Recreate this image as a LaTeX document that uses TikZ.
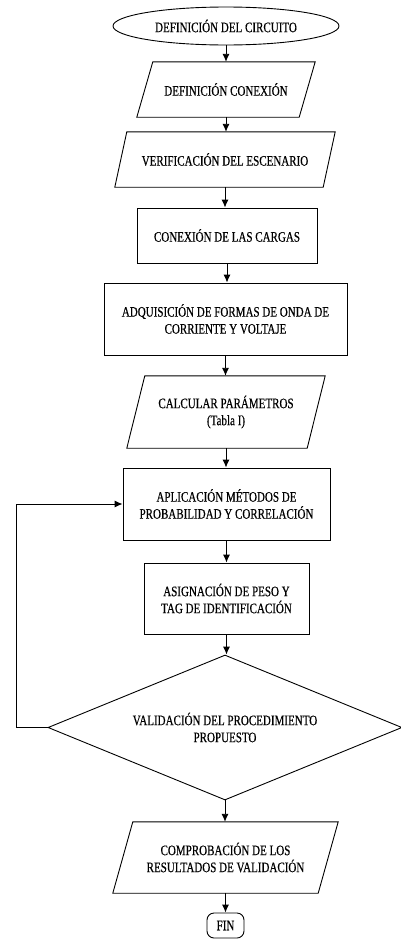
\documentclass[tikz,border=0pt]{standalone}
\usepackage{fontspec}
\setmainfont{Liberation Serif}[FakeStretch=0.76,FakeBold=0.4]
\usetikzlibrary{shapes.geometric,arrows.meta}
\tikzset{
  ln/.style={line width=0.9pt, draw=black},
  txt/.style={align=center, font=\fontsize{14.5}{17}\selectfont, inner sep=0pt},
  boxnode/.style={txt, ln, minimum width=#1},
  paranode/.style={txt, minimum width=#1},
  arr/.style={ln, -{Latex[length=8pt,width=7pt]}},
}
\newcommand\drawpara[2]{\draw[ln] ([xshift=#2]#1.north west) -- ([xshift=#2]#1.north east) -- ([xshift=-#2]#1.south east) -- ([xshift=-#2]#1.south west) -- cycle;}
\begin{document}
\begin{tikzpicture}[x=1pt,y=-1pt]
\useasboundingbox[fill=white] (0,0) rectangle (400,940);
\node[txt, ln, ellipse, minimum width=226pt, minimum height=38pt] (start) at (226,26) {DEFINICIÓN DEL CIRCUITO};
\node[paranode=162pt, minimum height=55pt] (p1) at (226,89.5) {DEFINICIÓN CONEXIÓN};
\drawpara{p1}{8pt}
\node[paranode=208pt, minimum height=55pt] (p2) at (225,159.5) {VERIFICACIÓN DEL ESCENARIO};
\drawpara{p2}{6pt}
\node[boxnode=180pt, minimum height=55pt] (r1) at (227,235.5) {CONEXIÓN DE LAS CARGAS};
\node[boxnode=243pt, minimum height=72pt] (r2) at (225.5,319) {ADQUISICIÓN DE FORMAS DE ONDA DE\\CORRIENTE Y VOLTAJE};
\node[paranode=180pt, minimum height=72pt] (p3) at (226,412) {CALCULAR PARÁMETROS\\(Tabla I)};
\drawpara{p3}{9pt}
\node[boxnode=207pt, minimum height=72pt] (ap) at (226.5,504) {APLICACIÓN MÉTODOS DE\\PROBABILIDAD Y CORRELACIÓN};
\node[boxnode=165pt, minimum height=71pt] (as) at (226.5,598.5) {ASIGNACIÓN DE PESO Y\\TAG DE IDENTIFICACIÓN};
\node[txt, ln, diamond, aspect=2.4, minimum width=354pt, minimum height=145pt] (dec) at (225,727.5) {VALIDACIÓN DEL PROCEDIMIENTO\\PROPUESTO};
\node[paranode=205pt, minimum height=71pt] (p4) at (225.5,857.5) {COMPROBACIÓN DE LOS\\RESULTADOS DE VALIDACIÓN};
\drawpara{p4}{10pt}
\node[txt, ln, rounded corners=7pt, minimum width=37pt, minimum height=25pt] (fin) at (225.5,925.5) {FIN};
\draw[arr] (start.south) -- (start.south |- p1.north);
\draw[arr] (p1.south) -- (p1.south |- p2.north);
\draw[arr] (p2.south) -- (p2.south |- r1.north);
\draw[arr] (r1.south) -- (r1.south |- r2.north);
\draw[arr] (r2.south) -- (r2.south |- p3.north);
\draw[arr] (p3.south) -- (p3.south |- ap.north);
\draw[arr] (ap.south) -- (ap.south |- as.north);
\draw[arr] (as.south) -- (as.south |- dec.north);
\draw[arr] (dec.south) -- (dec.south |- p4.north);
\draw[arr] (p4.south) -- (p4.south |- fin.north);
\draw[arr] (dec.west) -- ++(-31,0) |- (ap.west);
\end{tikzpicture}
\end{document}
